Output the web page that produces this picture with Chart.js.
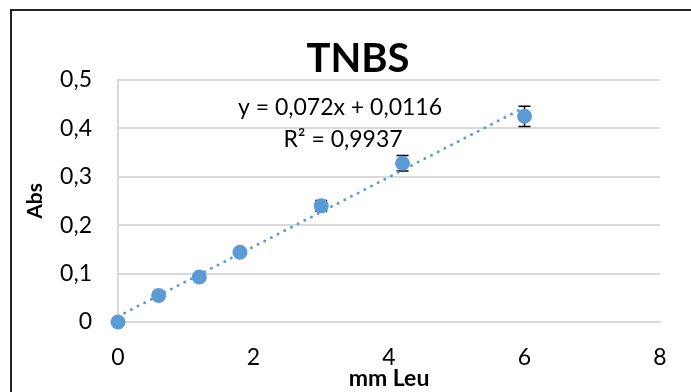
<!DOCTYPE html>
<html>
<head>
<meta charset="utf-8">
<script src="https://cdn.jsdelivr.net/npm/chart.js@4.4.1/dist/chart.umd.min.js"></script>
<style>
  html, body { margin: 0; padding: 0; background: #fff; }
  #wrap { width: 691px; height: 392px; }
</style>
</head>
<body>
<div id="wrap"><canvas id="chart" width="691" height="392"></canvas></div>
<script>
// measured points (mm Leu vs Abs)
const leuValues = [0, 0.6, 1.2, 1.8, 3, 4.2, 6];
const absValues = [0, 0.055, 0.093, 0.144, 0.240, 0.328, 0.425];
const absErrors = [0, 0, 0, 0, 0.011, 0.016, 0.021];

// linear trendline as drawn in the picture
const trendX = [0, 6];
const trendY = [0.0116, 0.4436];
const trendLabel = ['y = 0,072x + 0,0116', 'R\u00B2 = 0,9937'];

const chartTitle = 'TNBS';
const blue = '#5B9BD5';
const gridGrey = '#d9d9d9';
const font = 'Lato';

function comma(v) {
    if (v === 0) return '0';
    return Number.isInteger(v) ? String(v) : v.toFixed(1).replace('.', ',');
}

// error bars, drawn under the markers
const errorBars = {
    id: 'errorBars',
    beforeDatasetsDraw(chart) {
        const ctx = chart.ctx;
        const xs = chart.scales.x, ys = chart.scales.y;
        ctx.save();
        ctx.strokeStyle = '#000';
        ctx.lineWidth = 1.5;
        leuValues.forEach((x, i) => {
            const e = absErrors[i];
            if (!e) return;
            const px = xs.getPixelForValue(x);
            const top = ys.getPixelForValue(absValues[i] + e);
            const bot = ys.getPixelForValue(absValues[i] - e);
            ctx.beginPath();
            ctx.moveTo(px, top); ctx.lineTo(px, bot);
            ctx.moveTo(px - 6, top); ctx.lineTo(px + 6, top);
            ctx.moveTo(px - 6, bot); ctx.lineTo(px + 6, bot);
            ctx.stroke();
        });
        ctx.restore();
    }
};

// title, trendline equation and the outer frame
const decorations = {
    id: 'decorations',
    afterDraw(chart) {
        const ctx = chart.ctx;
        ctx.save();
        ctx.fillStyle = '#000';
        ctx.textAlign = 'center';
        ctx.textBaseline = 'middle';
        ctx.font = 'bold 40px ' + font;
        ctx.fillText(chartTitle, 358, 59);
        ctx.font = '23px ' + font;
        ctx.fillText(trendLabel[0], 340, 108);
        ctx.fillText(trendLabel[1], 343, 140);
        ctx.strokeStyle = '#222';
        ctx.lineWidth = 2;
        ctx.strokeRect(11, 10, 720, 420);
        ctx.restore();
    }
};

new Chart(document.getElementById('chart'), {
    type: 'scatter',
    data: {
        datasets: [{
            label: 'Abs',
            data: leuValues.map((x, i) => ({ x: x, y: absValues[i] })),
            backgroundColor: blue,
            borderWidth: 0,
            pointRadius: 7.5,
            clip: false,
            order: 1
        }, {
            label: 'Trend',
            type: 'line',
            data: trendX.map((x, i) => ({ x: x, y: trendY[i] })),
            borderColor: blue,
            borderWidth: 3,
            borderDash: [0, 7.5],
            borderCapStyle: 'round',
            pointRadius: 0,
            fill: false,
            clip: false,
            order: 2
        }]
    },
    options: {
        responsive: false,
        animation: false,
        layout: { padding: { top: 80, right: 31, left: 0, bottom: 0 } },
        plugins: {
            legend: { display: false },
            tooltip: { enabled: false }
        },
        scales: {
            x: {
                type: 'linear',
                min: 0, max: 8,
                afterFit(scale) { scale.height = 70; },
                ticks: {
                    stepSize: 2,
                    padding: 22,
                    color: '#000',
                    font: { family: font, size: 23 },
                    callback: comma
                },
                grid: { display: false, drawTicks: false },
                border: { display: true, color: gridGrey, width: 2 },
                title: {
                    display: true,
                    text: 'mm Leu',
                    color: '#000',
                    font: { family: font, size: 23, weight: 'bold', lineHeight: 1.2 },
                    padding: { top: 0, bottom: 0 }
                }
            },
            y: {
                min: 0, max: 0.5,
                afterFit(scale) { scale.width = 118; },
                ticks: {
                    stepSize: 0.1,
                    padding: 26,
                    color: '#000',
                    font: { family: font, size: 23 },
                    callback: comma
                },
                grid: { color: gridGrey, lineWidth: 2, drawTicks: false },
                border: { display: true, color: gridGrey, width: 2 },
                title: {
                    display: true,
                    text: 'Abs',
                    color: '#000',
                    font: { family: font, size: 21, weight: 'bold', lineHeight: 1.2 },
                    padding: { top: 23, bottom: 0 }
                }
            }
        }
    },
    plugins: [errorBars, decorations]
});
</script>
</body>
</html>
